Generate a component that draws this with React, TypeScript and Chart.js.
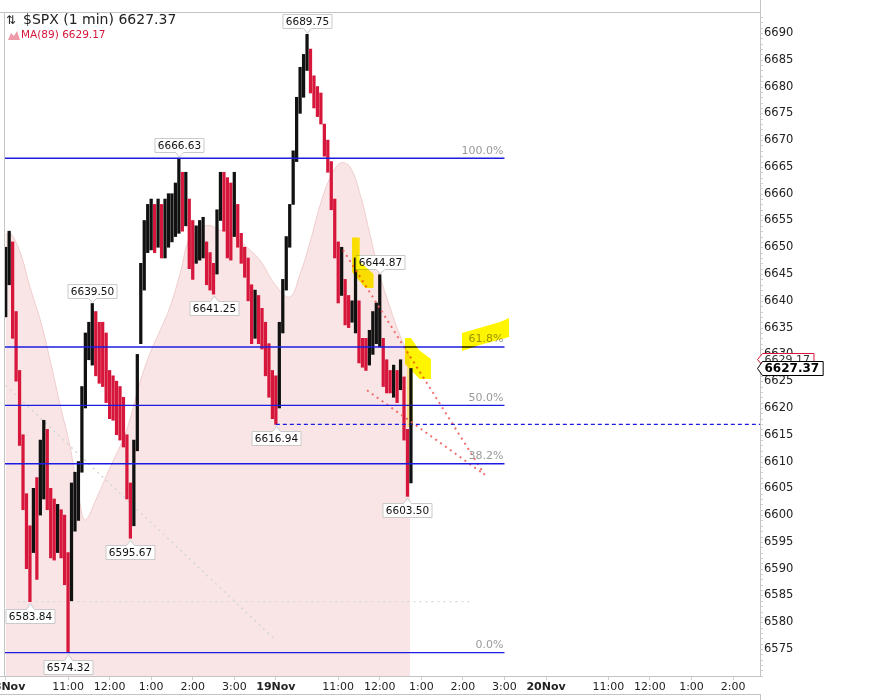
import React, { useEffect, useRef } from 'react';
import { Chart, registerables } from 'chart.js';

Chart.register(...registerables);

// ---- data (minutes since 18 Nov 9:30, session-continuous: 390 per day) ----
const BAR_STEP_MIN = 5;
const barHigh = [
  6650, 6653, 6651, 6638, 6627, 6615, 6604, 6598, 6605, 6607,
  6614, 6617.7, 6616, 6605, 6603, 6602, 6601, 6600, 6593, 6606,
  6608, 6610, 6624, 6634, 6636, 6639.5, 6638, 6636, 6636, 6634,
  6627, 6626, 6625, 6624, 6622, 6615, 6606, 6614, 6630, 6647,
  6655, 6658, 6659, 6658, 6659, 6658, 6659, 6660, 6660, 6662,
  6666.63, 6664, 6664, 6659, 6655, 6654, 6655, 6655.6, 6651, 6649,
  6647, 6657, 6664, 6664, 6663, 6662, 6664, 6658, 6652.6, 6650,
  6648, 6643, 6642, 6641, 6638.6, 6636, 6632, 6627, 6626, 6636,
  6644, 6652, 6658, 6668, 6678, 6683.6, 6686, 6689.75, 6687, 6682,
  6680, 6678.8, 6673, 6670, 6666, 6659, 6651, 6650, 6644, 6641,
  6640, 6648, 6640, 6633, 6633, 6634.5, 6638, 6639.6, 6644.87, 6633,
  6629, 6627, 6628, 6627, 6629, 6625.8, 6616, 6627.37,
];
const barLow = [
  6637, 6643, 6633, 6625, 6613, 6601, 6590, 6583.84, 6593, 6588,
  6600, 6603, 6601, 6592, 6591.6, 6593, 6592, 6587, 6574.32, 6584,
  6597, 6599, 6608, 6620, 6629, 6628, 6626, 6624.6, 6624, 6621,
  6618, 6617.7, 6615, 6614, 6612.7, 6603, 6595.67, 6598, 6612, 6632,
  6642, 6649, 6649.5, 6649, 6650, 6648, 6648, 6650, 6651, 6652,
  6652.6, 6653, 6654, 6646, 6644, 6647, 6647.6, 6648, 6643, 6642,
  6641.25, 6645, 6655, 6653, 6648, 6647.6, 6652, 6650, 6647, 6644.4,
  6640, 6632, 6633, 6632, 6631, 6626, 6622, 6618, 6616.94, 6620,
  6634, 6642, 6650, 6658, 6666, 6675, 6678, 6683, 6678.8, 6676,
  6674.4, 6673, 6667, 6664, 6657, 6648, 6639.6, 6641, 6635.5, 6635,
  6636, 6634, 6628.4, 6627.6, 6627, 6628, 6630, 6632, 6631.4, 6624,
  6622.8, 6622.8, 6622, 6621, 6623.4, 6614, 6603.5, 6606,
];

const maMinutes = [0, 6, 21, 35, 50, 64, 78, 93, 107, 115, 132, 151, 169, 179, 194, 208, 223, 237, 252, 266,
  281, 292, 309, 328, 348, 367, 389, 410, 425, 439, 454, 468, 483, 497, 512, 526, 540, 555, 569, 584];
const maValues = [6652.3, 6652.8, 6649, 6642.6, 6636.4, 6629, 6620.9, 6612.7, 6602.3, 6599.1,
  6603.4, 6609, 6614, 6617.7, 6624.8, 6630.1, 6634.5, 6638.8, 6645.2, 6651.9,
  6653.2, 6654.1, 6653.2, 6652.3, 6650, 6647.6, 6643, 6640.7, 6645, 6650.8,
  6657.9, 6662.9, 6665.7, 6665, 6659.7, 6652.3, 6644.8, 6638.7, 6633.6, 6629.17];

const fibLevels = [6574.32, 6609.58, 6620.48, 6631.37, 6666.63];
const fibLabels = ['0.0%', '38.2%', '50.0%', '61.8%', '100.0%'];
const FIB_END_MIN = 720;

const supportLevel = 6616.94;
const SUPPORT_START_MIN = 390;

const pivotMinutes = [435, 250, 125, 540, 300, 390, 580, 180, 35, 90];
const pivotValues = [6689.75, 6666.63, 6639.5, 6644.87, 6641.25, 6616.94, 6603.5, 6595.67, 6583.84, 6574.32];
const pivotAbove = [true, true, true, true, false, false, false, false, false, false];

const redTrendA = [[487, 6649.5], [693.4, 6607.1]];
const redTrendB = [[521.6, 6623.3], [687.6, 6607.9]];
const grayDiagonal = [[0, 6624.2], [386, 6577.1]];
const grayLevel = [[17, 6583.84], [670, 6583.84]];

const highlightA = [[500, 6651.8], [511, 6651.8], [511, 6647.3], [531, 6645.0], [531, 6642.4], [519, 6642.4], [500, 6645.4]];
const highlightB = [[658.7, 6634.0], [713.6, 6636.05], [726.6, 6636.8], [726.6, 6633.25], [684.7, 6631.75], [658.7, 6630.63]];
const highlightC = [[576.4, 6633.06], [585.1, 6633.06], [596.6, 6630.82], [613.9, 6629.14], [613.9, 6625.41], [597.6, 6625.41], [576.4, 6628.2]];
const highlightBar = [[579.3, 6627.65], [588, 6627.65], [588, 6616.45], [579.3, 6616.45]];

const xTickMinutes = [0, 90, 150, 210, 270, 330, 390, 480, 540, 600, 660, 720, 780, 870, 930, 990, 1050];
const xTickLabels = ['18Nov', '11:00', '12:00', '1:00', '2:00', '3:00', '19Nov', '11:00', '12:00', '1:00', '2:00', '3:00',
  '20Nov', '11:00', '12:00', '1:00', '2:00'];
const dayTickMinutes = [0, 390, 780];
const yTickValues = [6575, 6580, 6585, 6590, 6595, 6600, 6605, 6610, 6615, 6620, 6625, 6630,
  6635, 6640, 6645, 6650, 6655, 6660, 6665, 6670, 6675, 6680, 6685, 6690];

const lastPrice = 6627.37;
const lastMA = 6629.17;

const X_MIN = -2.45;
const X_MAX = 1088.9;
const Y_MIN = 6569.96;
const Y_MAX = 6693.92;

const RED = 'rgb(214,22,58)';
const BLUE = 'rgb(28,28,225)';
const FONT = '"DejaVu Sans", Verdana, sans-serif';

function seg(pts: number[][]) {
  return pts.map((p) => ({ x: p[0], y: p[1] }));
}

const overlayPlugin = {
  id: 'overlay',
  afterDatasetsDraw(chart: any) {
    const { ctx, scales } = chart;
    const xs = scales.x;
    const ys = scales.y;
    ctx.save();
    // fib labels
    ctx.font = '11px ' + FONT;
    ctx.fillStyle = '#9a9a9a';
    ctx.textAlign = 'right';
    ctx.textBaseline = 'middle';
    fibLevels.forEach((lv, i) => {
      ctx.fillText(fibLabels[i], xs.getPixelForValue(FIB_END_MIN) - 1, ys.getPixelForValue(lv) - 7.5);
    });
    // pivot labels
    ctx.font = '10.5px ' + FONT;
    ctx.textAlign = 'center';
    pivotMinutes.forEach((m, i) => {
      const t = pivotValues[i].toFixed(2);
      const px = Math.round(xs.getPixelForValue(m)) + 0.5;
      const py = ys.getPixelForValue(pivotValues[i]);
      const w = Math.round(ctx.measureText(t).width + 6);
      const h = 14;
      ctx.beginPath();
      let top: number;
      let bottom: number;
      if (pivotAbove[i]) {
        bottom = Math.round(py - 6) + 0.5;
        top = bottom - h;
        const tip = py - 1;
        ctx.moveTo(px - w / 2, top);
        ctx.lineTo(px + w / 2, top);
        ctx.lineTo(px + w / 2, bottom);
        ctx.lineTo(px + 4, bottom);
        ctx.lineTo(px, tip);
        ctx.lineTo(px - 4, bottom);
        ctx.lineTo(px - w / 2, bottom);
      } else {
        top = Math.round(py + 7) + 0.5;
        bottom = top + h;
        const tip = py + 2;
        ctx.moveTo(px - w / 2, top);
        ctx.lineTo(px - 4, top);
        ctx.lineTo(px, tip);
        ctx.lineTo(px + 4, top);
        ctx.lineTo(px + w / 2, top);
        ctx.lineTo(px + w / 2, bottom);
        ctx.lineTo(px - w / 2, bottom);
      }
      ctx.closePath();
      ctx.fillStyle = '#ffffff';
      ctx.fill();
      ctx.strokeStyle = '#c9c9c9';
      ctx.lineWidth = 1;
      ctx.stroke();
      ctx.fillStyle = '#111';
      ctx.fillText(t, px, (top + bottom) / 2 + 0.5);
    });
    // highlighter strokes
    ctx.globalCompositeOperation = 'multiply';
    const poly = (pts: number[][], color: string) => {
      ctx.beginPath();
      pts.forEach((p, j) => {
        const X = xs.getPixelForValue(p[0]);
        const Y = ys.getPixelForValue(p[1]);
        if (j === 0) ctx.moveTo(X, Y);
        else ctx.lineTo(X, Y);
      });
      ctx.closePath();
      ctx.fillStyle = color;
      ctx.fill();
    };
    poly(highlightBar, 'rgb(255,250,150)');
    poly(highlightA, 'rgb(255,245,0)');
    poly(highlightB, 'rgb(255,245,0)');
    poly(highlightC, 'rgb(255,245,0)');
    ctx.restore();
  },
  afterDraw(chart: any) {
    const { ctx, chartArea: a, scales } = chart;
    const ys = scales.y;
    ctx.save();
    // frame
    ctx.strokeStyle = '#c4c4c4';
    ctx.lineWidth = 1;
    ctx.beginPath();
    ctx.moveTo(0, a.top + 0.5);
    ctx.lineTo(a.right, a.top + 0.5);
    ctx.moveTo(a.left + 0.5, a.top);
    ctx.lineTo(a.left + 0.5, a.bottom);
    ctx.moveTo(0, a.bottom + 0.5);
    ctx.lineTo(a.right, a.bottom + 0.5);
    ctx.moveTo(a.right + 0.5, 0);
    ctx.lineTo(a.right + 0.5, a.bottom + 1);
    ctx.moveTo(0, 694.5);
    ctx.lineTo(a.right, 694.5);
    ctx.moveTo(a.right + 0.5, 694);
    ctx.lineTo(a.right + 0.5, 700);
    ctx.stroke();
    // minor ticks on value axis
    ctx.strokeStyle = '#cfcfcf';
    ctx.beginPath();
    for (let v = Math.ceil(Y_MIN); v <= Y_MAX; v += 1) {
      const yy = Math.round(ys.getPixelForValue(v)) + 0.5;
      ctx.moveTo(a.right + 1, yy);
      ctx.lineTo(a.right + 3, yy);
    }
    ctx.stroke();

    // price tags
    const tag = (val: number, text: string, border: string, bold: boolean) => {
      const yy = Math.round(ys.getPixelForValue(val)) + 0.5;
      const h = bold ? 14 : 12;
      const x0 = a.right - 2.5;
      ctx.font = (bold ? 'bold 12px ' : '11px ') + FONT;
      const w = ctx.measureText(text).width + 6;
      ctx.beginPath();
      ctx.moveTo(x0, yy);
      ctx.lineTo(x0 + 5, yy - h / 2);
      ctx.lineTo(x0 + 5 + w, yy - h / 2);
      ctx.lineTo(x0 + 5 + w, yy + h / 2);
      ctx.lineTo(x0 + 5, yy + h / 2);
      ctx.closePath();
      ctx.fillStyle = '#fff';
      ctx.fill();
      ctx.strokeStyle = border;
      ctx.lineWidth = 1;
      ctx.stroke();
      ctx.fillStyle = bold ? '#000' : '#333';
      ctx.textAlign = 'left';
      ctx.textBaseline = 'middle';
      ctx.fillText(text, x0 + 7, yy + 0.5);
    };
    tag(lastMA, lastMA.toFixed(2), RED, false);
    tag(lastPrice, lastPrice.toFixed(2), '#000', true);

    // legend
    ctx.textAlign = 'left';
    ctx.textBaseline = 'middle';
    ctx.fillStyle = '#222';
    ctx.font = '12px ' + FONT;
    ctx.fillText('\u21C5', 6, 20.5);
    ctx.font = '14px ' + FONT;
    ctx.fillText('$SPX (1 min) ' + lastPrice.toFixed(2), 23, 20.5);
    ctx.fillStyle = 'rgba(232,120,140,0.75)';
    ctx.beginPath();
    ctx.moveTo(8, 40);
    ctx.lineTo(11, 33);
    ctx.lineTo(14, 36);
    ctx.lineTo(17, 31);
    ctx.lineTo(20, 40);
    ctx.closePath();
    ctx.fill();
    ctx.fillStyle = RED;
    ctx.font = '10.5px ' + FONT;
    ctx.fillText('MA(89) ' + lastMA.toFixed(2), 21, 35.5);
    ctx.restore();
  },
};

export default function App() {
  const ref = useRef<HTMLCanvasElement | null>(null);
  useEffect(() => {
    if (!ref.current) return;
    const colors = barHigh.map((h, i) => {
      if (i === 0) return '#111';
      const mid = (h + barLow[i]) / 2;
      const prev = (barHigh[i - 1] + barLow[i - 1]) / 2;
      return mid >= prev ? '#111' : RED;
    });
    const lineDs = (pts: number[][], color: string, width: number, dash: number[], order: number) => ({
      type: 'line',
      data: seg(pts),
      borderColor: color,
      borderWidth: width,
      borderDash: dash,
      pointRadius: 0,
      fill: false,
      tension: 0,
      order,
    });
    const datasets: any[] = [
      {
        type: 'line',
        data: maMinutes.map((m, i) => ({ x: m, y: maValues[i] })),
        borderColor: 'rgba(235,190,190,0.7)',
        borderWidth: 1,
        backgroundColor: 'rgba(236,168,168,0.3)',
        fill: 'start',
        pointRadius: 0,
        tension: 0.4,
        order: 20,
      },
      lineDs(grayDiagonal, '#d6d6d6', 1.5, [2, 4], 15),
      lineDs(grayLevel, '#d9d9d9', 1.2, [2, 4], 15),
      {
        type: 'bar',
        data: barHigh.map((h, i) => ({ x: i * BAR_STEP_MIN, y: [barLow[i], h] })),
        backgroundColor: colors,
        borderWidth: 0,
        barThickness: 2.6,
        grouped: false,
        order: 5,
      },
      lineDs(redTrendA, 'rgba(238,95,95,0.9)', 2, [2, 4], 3),
      lineDs(redTrendB, 'rgba(238,95,95,0.9)', 2, [2, 4], 3),
      ...fibLevels.map((lv) => lineDs([[X_MIN, lv], [FIB_END_MIN, lv]], BLUE, 1.4, [], 2)),
      lineDs([[SUPPORT_START_MIN, supportLevel], [X_MAX, supportLevel]], BLUE, 1.2, [4, 3], 2),
    ];
    const chart = new Chart(ref.current, {
      type: 'bar',
      data: { datasets },
      plugins: [overlayPlugin],
      options: {
        responsive: false,
        animation: false,
        devicePixelRatio: 1,
        layout: { padding: { top: 12, left: 4, right: 0, bottom: 0 } },
        plugins: { legend: { display: false }, tooltip: { enabled: false } },
        scales: {
          x: {
            type: 'linear',
            min: X_MIN,
            max: X_MAX,
            offset: false,
            grid: { display: true, drawOnChartArea: false, drawTicks: true, tickLength: 4, color: '#d0d0d0', offset: false },
            border: { display: false },
            afterBuildTicks: (s: any) => {
              s.ticks = xTickMinutes.map((v) => ({ value: v }));
            },
            afterFit: (s: any) => {
              s.height = 24;
              s.paddingLeft = 0;
              s.paddingRight = 0;
            },
            ticks: {
              autoSkip: false,
              maxRotation: 0,
              minRotation: 0,
              padding: 1,
              color: '#222',
              font: (c: any) => ({
                family: FONT,
                size: 11,
                weight: c.tick && dayTickMinutes.includes(c.tick.value) ? 'bold' : 'normal',
              }),
              callback: (v: any) => {
                const i = xTickMinutes.indexOf(v);
                return i >= 0 ? xTickLabels[i] : '';
              },
            },
          },
          y: {
            type: 'linear',
            position: 'right',
            min: Y_MIN,
            max: Y_MAX,
            grid: { display: false, drawTicks: false },
            border: { display: false },
            afterBuildTicks: (s: any) => {
              s.ticks = yTickValues.map((v) => ({ value: v }));
            },
            afterFit: (s: any) => {
              s.width = 124;
              s.paddingTop = 0;
              s.paddingBottom = 0;
            },
            ticks: {
              padding: 4,
              color: '#222',
              font: { family: FONT, size: 11.5 },
              callback: (v: any) => String(v),
            },
          },
        },
      } as any,
    });
    return () => chart.destroy();
  }, []);
  return (
    <div style={{ position: 'absolute', left: 0, top: 0, width: 884, height: 700, background: '#fff' }}>
      <canvas ref={ref} width={884} height={700} style={{ display: 'block', width: 884, height: 700 }} />
    </div>
  );
}
